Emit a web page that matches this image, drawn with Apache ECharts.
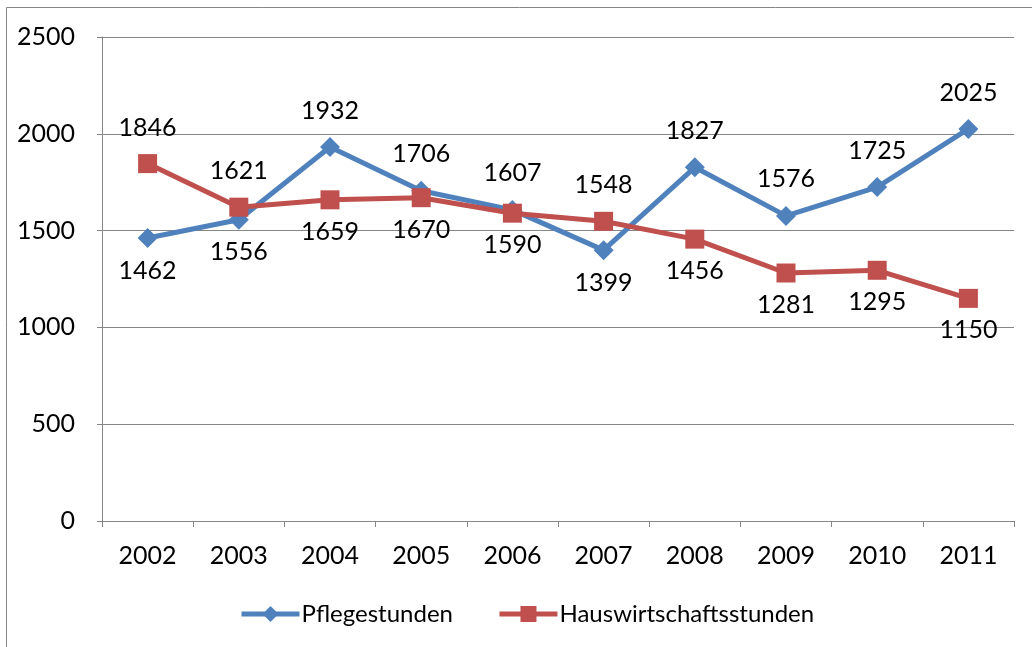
<!DOCTYPE html>
<html><head><meta charset="utf-8">
<script src="https://cdn.jsdelivr.net/npm/echarts@6/dist/echarts.min.js"></script>
<style>html,body{margin:0;padding:0;background:#fff}#c{width:1032px;height:647px}</style>
</head><body><div id="c"></div>
<script>
const categories = ['2002','2003','2004','2005','2006','2007','2008','2009','2010','2011'];
const pflege = [1462,1556,1932,1706,1607,1399,1827,1576,1725,2025];
const haus = [1846,1621,1659,1670,1590,1548,1456,1281,1295,1150];
const pflegeLabelPos = ['bottom','bottom','top','top','top','bottom','top','top','top','top'];
const hausLabelPos = ['top','top','bottom','bottom','bottom','top','bottom','bottom','bottom','bottom'];
const font = 'Lato, "Open Sans", sans-serif';
const chart = echarts.init(document.getElementById('c'));
function mk(vals, pos) {
  return vals.map((v,i)=>({value:v, label:{position:pos[i], distance: pos[i]==='top'?14:10}}));
}
chart.setOption({
  animation:false,
  textStyle:{fontFamily:font},
  graphic:[
    {type:'line',shape:{x1:6.5,y1:7.5,x2:1032,y2:7.5},style:{stroke:'#868686',lineWidth:1}},
    {type:'line',shape:{x1:6.5,y1:7.5,x2:6.5,y2:647},style:{stroke:'#868686',lineWidth:1}}
  ],
  grid:{left:102,right:18,top:37,bottom:126,containLabel:false},
  legend:{
    top:597,left:234,itemWidth:58,itemHeight:20,itemGap:44,
    lineStyle:{width:5},
    textStyle:{fontSize:24,color:'#000',fontFamily:font,padding:[0,0,0,-3]},
    data:['Pflegestunden','Hauswirtschaftsstunden']
  },
  xAxis:{
    type:'category',data:categories,boundaryGap:true,
    axisLine:{lineStyle:{color:'#868686',width:1}},
    axisTick:{show:true,length:6,lineStyle:{color:'#868686'}},
    axisLabel:{fontSize:25,color:'#000',margin:22,fontFamily:font}
  },
  yAxis:{
    type:'value',min:0,max:2500,interval:500,
    axisLine:{show:true,lineStyle:{color:'#868686'}},
    axisTick:{show:true,length:5,inside:false,lineStyle:{color:'#868686'}},
    splitLine:{show:true,lineStyle:{color:'#868686',width:1}},
    axisLabel:{fontSize:25,color:'#000',margin:27,fontFamily:font,formatter:v=>String(v)}
  },
  series:[
    {name:'Pflegestunden',type:'line',data:mk(pflege,pflegeLabelPos),
     symbol:'diamond',symbolSize:20,
     itemStyle:{color:'#4F81BD'},lineStyle:{color:'#4F81BD',width:5},
     label:{show:true,fontSize:25,color:'#000',fontFamily:font}},
    {name:'Hauswirtschaftsstunden',type:'line',data:mk(haus,hausLabelPos),
     symbol:'rect',symbolSize:19,
     itemStyle:{color:'#C0504D'},lineStyle:{color:'#C0504D',width:5},
     label:{show:true,fontSize:25,color:'#000',fontFamily:font}}
  ]
});
</script></body></html>
